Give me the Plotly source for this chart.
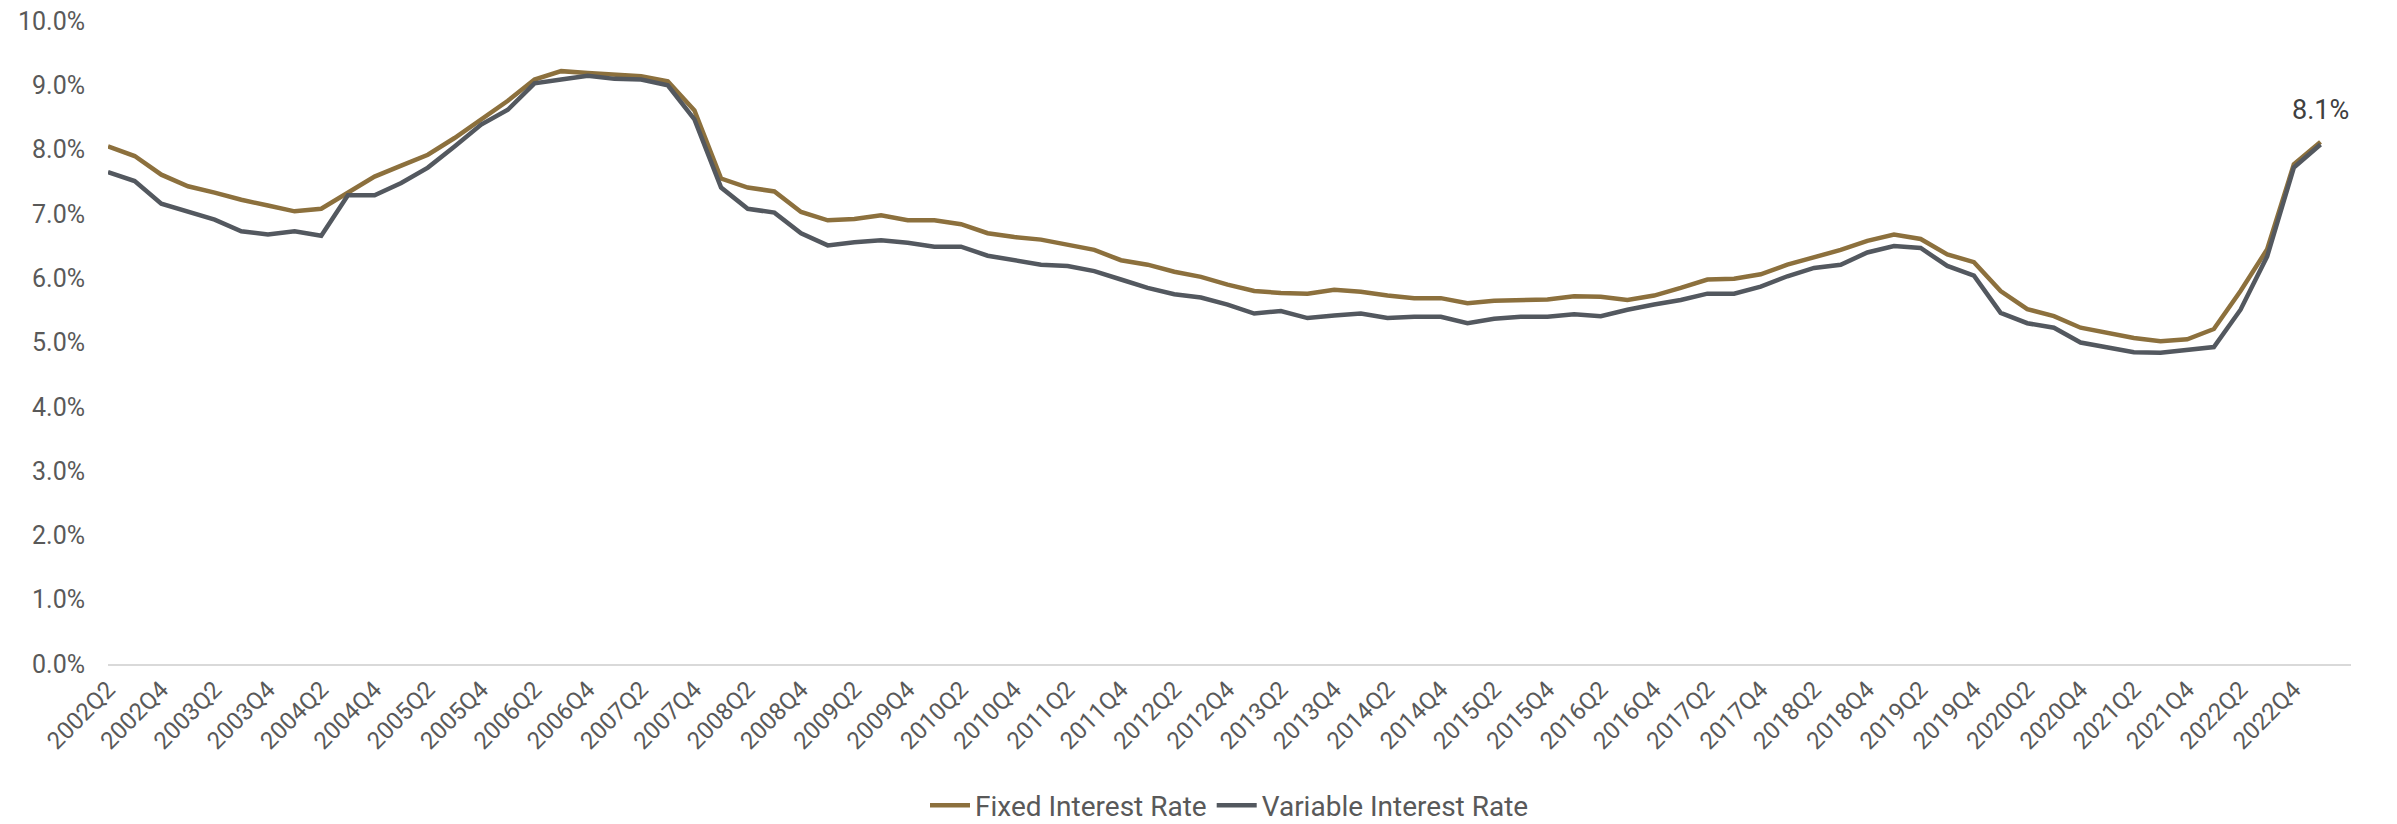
import plotly.graph_objects as go

quarters = [f"{y}Q{q}" for y in range(2002, 2024) for q in range(1, 5)]
quarters = quarters[quarters.index("2002Q2"):quarters.index("2023Q1") + 1]

fixed_rate = [8.05, 7.90, 7.61, 7.43, 7.33, 7.22, 7.13, 7.04, 7.08, 7.32,
              7.58, 7.75, 7.92, 8.18, 8.48, 8.76, 9.09, 9.22, 9.19, 9.17,
              9.14, 9.06, 8.61, 7.55, 7.41, 7.35, 7.03, 6.90, 6.92, 6.98,
              6.90, 6.90, 6.84, 6.70, 6.64, 6.60, 6.52, 6.44, 6.28, 6.21,
              6.10, 6.02, 5.90, 5.80, 5.77, 5.76, 5.82, 5.79, 5.73, 5.69,
              5.69, 5.61, 5.65, 5.66, 5.67, 5.72, 5.71, 5.66, 5.73, 5.85,
              5.98, 5.99, 6.06, 6.21, 6.32, 6.44, 6.58, 6.68, 6.61, 6.37,
              6.25, 5.80, 5.52, 5.41, 5.23, 5.15, 5.07, 5.02, 5.05, 5.21,
              5.80, 6.45, 7.77, 8.12]

variable_rate = [7.65, 7.51, 7.16, 7.03, 6.91, 6.73, 6.68, 6.73, 6.66, 7.29,
                 7.29, 7.48, 7.72, 8.05, 8.39, 8.62, 9.03, 9.09, 9.15, 9.10,
                 9.09, 9.00, 8.47, 7.41, 7.08, 7.02, 6.70, 6.51, 6.56, 6.59,
                 6.55, 6.49, 6.49, 6.35, 6.28, 6.21, 6.19, 6.11, 5.98, 5.85,
                 5.75, 5.70, 5.59, 5.45, 5.49, 5.38, 5.42, 5.45, 5.38, 5.40,
                 5.40, 5.30, 5.37, 5.40, 5.40, 5.44, 5.41, 5.51, 5.59, 5.66,
                 5.76, 5.76, 5.87, 6.03, 6.16, 6.21, 6.40, 6.50, 6.47, 6.19,
                 6.04, 5.46, 5.30, 5.23, 5.00, 4.92, 4.85, 4.84, 4.88, 4.93,
                 5.51, 6.34, 7.72, 8.08]

tick_labels = quarters[::2]
y_ticks = [0, 1, 2, 3, 4, 5, 6, 7, 8, 9, 10]

GOLD = "#8C703D"
GRAY = "#53585F"
TXT = "#595959"
FONT = "Roboto"

fig = go.Figure()
fig.add_trace(go.Scatter(x=quarters, y=fixed_rate, mode="lines", name="Fixed Interest Rate",
                         line=dict(color=GOLD, width=4.5)))
fig.add_trace(go.Scatter(x=quarters, y=variable_rate, mode="lines", name="Variable Interest Rate",
                         line=dict(color=GRAY, width=4.5)))

fig.add_annotation(x=quarters[-1], y=fixed_rate[-1], text=f"{fixed_rate[-1]:.1f}%",
                   showarrow=False, yshift=32, font=dict(family=FONT, size=27, color="#404040"))

fig.update_layout(
    width=2397, height=824,
    margin=dict(l=108, r=46, t=21, b=160, autoexpand=False),
    paper_bgcolor="white", plot_bgcolor="white",
    font=dict(family=FONT, size=24, color=TXT),
    showlegend=True,
    legend=dict(orientation="h", x=0.5, xanchor="center", y=-0.22, yanchor="middle",
                font=dict(family=FONT, size=28, color=TXT), itemwidth=40,
                traceorder="normal"),
    xaxis=dict(type="category", categoryorder="array", categoryarray=quarters,
               tickmode="array", tickvals=tick_labels, ticktext=tick_labels,
               tickangle=-45, showgrid=False, showline=True, linecolor="#D9D9D9",
               linewidth=2, ticks="", tickfont=dict(family=FONT, size=24, color=TXT),
               zeroline=False, automargin=False),
    yaxis=dict(range=[0, 10], tickmode="array", tickvals=y_ticks,
               ticktext=[f"{v:.1f}%" for v in y_ticks], showgrid=False,
               zeroline=False, showline=False, ticks="", ticklabelstandoff=22,
               tickfont=dict(family=FONT, size=25, color=TXT), automargin=False),
)

fig.write_html("out.html")
